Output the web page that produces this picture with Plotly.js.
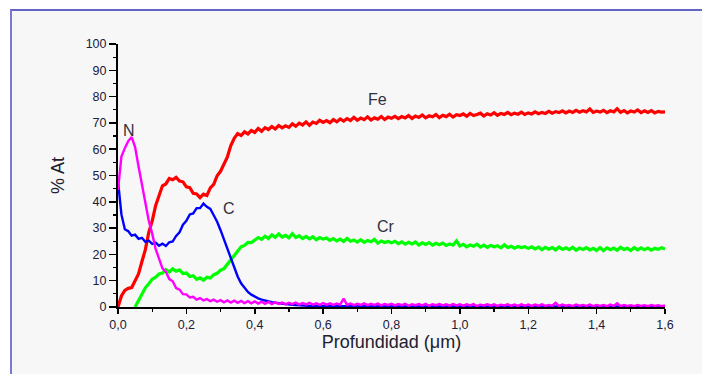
<!DOCTYPE html>
<html>
<head>
<meta charset="utf-8">
<script src="https://cdn.plot.ly/plotly-3.0.1.min.js"></script>
<style>
  html, body { margin: 0; padding: 0; background: #ffffff; width: 702px; height: 374px; overflow: hidden; }
  #frame { position: absolute; left: 10px; top: 9px; width: 700px; height: 370px;
           background: #f7f7f7; border-top: 2px solid #6464c4; border-left: 2px solid #7a7ad2; }
  #chart { position: absolute; left: 0; top: 0; width: 702px; height: 374px; }
</style>
</head>
<body>
<div id="frame"></div>
<div id="chart"></div>
<script>
// Depth sampling: 0.00 .. 1.60 µm, step 0.01
const depthStep = 0.01;

// Fe (% At)
const Fe = [
  0, 4.2, 6.3, 7.1, 7.4, 9.8, 12.6, 17.3, 21.8, 28.4, 32.7, 38.5, 42.6, 46.1, 46.8, 48.9, 48.4, 49.3, 47.9, 47.6,
  45.7, 45.4, 43.2, 43.0, 41.6, 42.9, 42.4, 45.3, 46.6, 49.9, 51.6, 54.5, 57.1, 61.4, 64.1, 65.9, 65.2, 66.6, 65.8, 67.1, 66.4,
  67.9, 66.8, 68.2, 67.5, 68.6, 67.7, 69.0, 68.1, 68.9, 68.3, 69.6, 68.7, 69.9, 69.2, 70.4, 69.1, 70.3, 69.8, 71.0, 70.2,
  70.9, 70.1, 71.3, 70.4, 71.5, 70.7, 71.6, 70.9, 72.1, 71.0, 71.8, 71.2, 72.3, 71.1, 71.9, 71.4, 72.4, 71.3, 72.2, 71.8,
  72.5, 71.6, 72.4, 71.9, 72.8, 71.7, 72.6, 72.1, 73.0, 71.9, 72.7, 72.3, 73.2, 72.0, 72.9, 72.4, 73.3, 72.2, 73.1, 72.8,
  73.4, 72.5, 73.6, 72.8, 73.2, 73.7, 72.6, 73.5, 73.0, 73.9, 72.9, 73.6, 73.2, 74.0, 73.1, 73.7, 73.3, 74.1, 73.2, 73.8,
  73.4, 74.2, 73.5, 74.0, 73.6, 74.4, 73.7, 74.3, 73.9, 74.6, 73.8, 74.5, 74.0, 74.8, 74.1, 74.6, 74.2, 75.3, 74.0, 74.5,
  74.1, 74.8, 73.9, 74.6, 74.2, 75.4, 74.0, 74.7, 73.8, 74.5, 74.1, 74.9, 73.9, 74.6, 74.0, 74.7, 73.8, 74.4, 74.1, 74.2
];

// Cr (% At) — absent near the surface
const Cr = [
  null, null, null, null, null, 0.0, 2.4, 4.9, 7.3, 8.8, 10.6, 11.3, 12.6, 12.9, 14.2, 13.3, 14.5, 13.6, 14.1, 12.7,
  12.9, 11.6, 11.9, 10.5, 11.1, 10.2, 11.3, 11.0, 12.3, 12.8, 14.0, 14.6, 16.3, 17.8, 19.9, 21.2, 22.9, 23.4, 24.6, 24.5, 25.6,
  26.4, 25.7, 26.9, 26.1, 27.4, 26.5, 27.8, 26.6, 27.2, 26.3, 27.9, 26.4, 27.1, 26.0, 26.8, 25.9, 26.7, 25.6, 26.4, 25.8,
  26.2, 25.3, 26.0, 25.1, 25.8, 24.9, 26.1, 25.0, 25.5, 24.7, 25.6, 24.6, 25.3, 24.8, 25.7, 24.3, 25.1, 24.5, 24.9, 24.4,
  25.0, 24.1, 24.8, 23.9, 24.6, 24.0, 24.7, 23.6, 24.4, 23.8, 24.5, 23.5, 24.2, 23.7, 24.3, 23.4, 24.0, 23.5, 25.1, 23.2,
  23.8, 22.9, 23.6, 23.1, 23.9, 22.8, 23.5, 22.7, 23.4, 22.9, 23.3, 22.5, 23.6, 22.6, 23.1, 22.4, 23.0, 22.6, 22.9, 22.3,
  22.9, 22.1, 22.8, 21.8, 22.7, 22.0, 22.6, 21.7, 22.8, 21.9, 22.5, 21.8, 22.7, 21.6, 22.4, 21.9, 22.6, 21.7, 22.3, 21.5,
  22.6, 21.4, 22.5, 21.8, 22.4, 21.6, 22.7, 21.9, 22.3, 21.5, 22.6, 21.7, 22.5, 21.8, 22.4, 21.6, 22.3, 21.9, 22.5, 22.1
];

// C (% At)
const C = [
  48.0, 35.2, 29.6, 28.8, 27.1, 27.5, 25.9, 26.3, 24.8, 25.2, 24.0, 24.5, 23.3, 24.1, 23.2, 24.6, 24.9, 27.0, 28.4, 31.3,
  32.8, 35.2, 35.6, 37.6, 37.6, 39.3, 38.1, 37.3, 34.9, 32.4, 29.2, 25.8, 22.3, 18.6, 14.9, 11.6, 9.0, 7.1, 5.7, 4.7, 3.9,
  3.3, 2.8, 2.4, 2.1, 1.8, 1.6, 1.4, 1.2, 1.0, 0.9, 0.8, 0.7, 0.6, 0.5, 0.5, 0.4, 0.4, 0.3, 0.3, 0.3,
  0.2, 0.3, 0.2, 0.2, 0.3, 0.2, 0.2, 0.3, 0.2, 0.2, 0.3, 0.2, 0.2, 0.2, 0.3, 0.2, 0.2, 0.3, 0.2, 0.2,
  0.2, 0.2, 0.3, 0.2, 0.2, 0.2, 0.3, 0.2, 0.2, 0.2, 0.2, 0.3, 0.2, 0.2, 0.2, 0.2, 0.3, 0.2, 0.2, 0.2,
  0.2, 0.2, 0.2, 0.3, 0.2, 0.2, 0.2, 0.2, 0.2, 0.3, 0.2, 0.2, 0.2, 0.2, 0.2, 0.3, 0.2, 0.2, 0.2, 0.2,
  0.2, 0.2, 0.2, 0.2, 0.3, 0.2, 0.2, 0.2, 0.2, 0.2, 0.2, 0.3, 0.2, 0.2, 0.2, 0.2, 0.2, 0.2, 0.3, 0.2,
  0.2, 0.2, 0.2, 0.2, 0.2, 0.3, 0.2, 0.2, 0.2, 0.2, 0.2, 0.2, 0.3, 0.2, 0.2, 0.2, 0.2, 0.2, 0.2, 0.2
];

// N (% At)
const N = [
  44.5, 57.2, 60.4, 63.1, 64.6, 60.8, 53.5, 46.6, 40.3, 32.8, 27.9, 22.1, 18.4, 14.7, 13.4, 10.6, 9.8, 7.2, 6.6, 4.9,
  4.8, 3.6, 3.9, 2.8, 3.4, 2.5, 3.0, 2.2, 2.8, 2.0, 2.6, 1.8, 2.5, 1.7, 2.4, 1.6, 2.3, 1.5, 2.2, 1.4, 2.1,
  1.3, 2.0, 1.2, 1.9, 1.1, 1.8, 1.2, 1.7, 1.0, 1.6, 1.1, 1.7, 0.9, 1.5, 1.0, 1.6, 0.9, 1.4, 0.8, 1.5,
  0.9, 1.4, 0.8, 1.3, 0.9, 3.2, 0.8, 1.3, 0.7, 1.2, 0.8, 1.4, 0.7, 1.2, 0.8, 1.3, 0.6, 1.1, 0.8, 1.2,
  0.6, 1.1, 0.7, 1.2, 0.5, 1.0, 0.7, 1.1, 0.6, 1.2, 0.5, 1.0, 0.7, 1.1, 0.6, 1.0, 0.5, 1.1, 0.6, 1.0,
  0.5, 1.0, 0.6, 1.1, 0.4, 0.9, 0.6, 1.0, 0.5, 1.0, 0.4, 0.9, 0.6, 1.0, 0.5, 0.9, 0.4, 1.0, 0.5, 0.9,
  0.4, 0.9, 0.5, 1.0, 0.4, 0.8, 0.5, 1.6, 0.4, 0.9, 0.5, 0.8, 0.3, 0.9, 0.5, 0.8, 0.4, 0.9, 0.3, 0.8,
  0.4, 0.8, 0.3, 0.9, 0.4, 1.4, 0.3, 0.8, 0.4, 0.7, 0.3, 0.8, 0.4, 0.7, 0.3, 0.8, 0.4, 0.7, 0.3, 0.6
];

// Curve labels
const labelText = ['Fe', 'N', 'C', 'Cr'];
const labelX = [0.76, 0.032, 0.325, 0.785];
const labelY = [79, 67, 37.5, 30.5];

const depth = Fe.map((_, i) => +(i * depthStep).toFixed(2));

function tr(y, color, w) {
  return { x: depth, y: y, type: 'scatter', mode: 'lines',
           line: { color: color, width: w }, connectgaps: false, hoverinfo: 'skip' };
}

const data = [
  tr(Fe, '#ff0000', 3.2),
  tr(Cr, '#00ff00', 3.2),
  tr(C, '#0000ff', 2.4),
  tr(N, '#ff00ff', 2.4)
];

const fontFam = 'Arial, "Liberation Sans", sans-serif';

const layout = {
  width: 702, height: 374,
  margin: { l: 118, r: 37, t: 44, b: 67 },
  paper_bgcolor: 'rgba(0,0,0,0)',
  plot_bgcolor: '#f7f7f7',
  showlegend: false,
  separators: ',.',
  font: { family: fontFam, color: '#202038' },
  xaxis: {
    range: [0, 1.6], dtick: 0.2, tick0: 0, tickformat: '.1f',
    showgrid: false, zeroline: false,
    showline: true, linecolor: '#000', linewidth: 2,
    ticks: 'outside', ticklen: 5, tickwidth: 1.5, tickcolor: '#000',
    minor: { dtick: 0.1, ticks: 'outside', ticklen: 3, tickwidth: 1.2, tickcolor: '#000' },
    tickfont: { size: 12.5, family: fontFam, color: '#202038' },
    title: { text: 'Profundidad (\u03bcm)', font: { size: 18, family: fontFam, color: '#202030' }, standoff: 3 }
  },
  yaxis: {
    range: [0, 100], dtick: 10, tick0: 0,
    showgrid: false, zeroline: false,
    showline: true, linecolor: '#000', linewidth: 2,
    ticks: 'outside', ticklen: 7, tickwidth: 1.5, tickcolor: '#000',
    minor: { dtick: 5, ticks: 'outside', ticklen: 3, tickwidth: 1.2, tickcolor: '#000' },
    tickfont: { size: 12.5, family: fontFam, color: '#202038' },
    title: { text: '% At', font: { size: 18, family: fontFam, color: '#202030' }, standoff: 16 }
  },
  annotations: labelText.map((t, i) => ({
    x: labelX[i], y: labelY[i], xref: 'x', yref: 'y', text: t, showarrow: false,
    font: { size: 16, family: fontFam, color: '#303040' }
  }))
};

Plotly.newPlot('chart', data, layout, { displayModeBar: false, staticPlot: true });
</script>
</body>
</html>
